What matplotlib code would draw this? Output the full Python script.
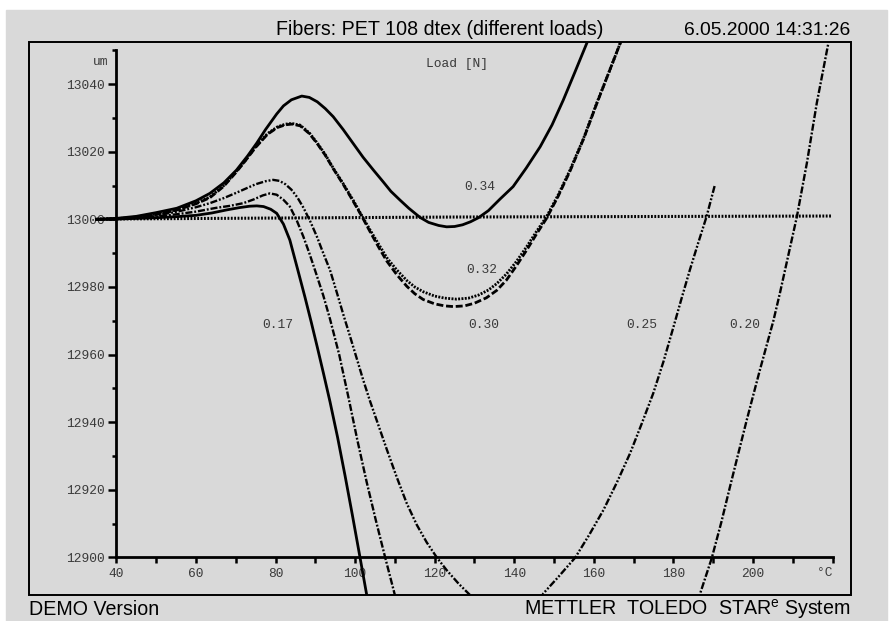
import numpy as np
import matplotlib
matplotlib.use("Agg")
import matplotlib.pyplot as plt
from matplotlib.patches import Rectangle

plt.rcParams['mathtext.fontset'] = 'custom'
plt.rcParams['mathtext.rm'] = 'Liberation Sans'

# ---------------- data (temperature in °C, length in um) ----------------
nan = np.nan
t_034 = [35, 40, 45, 50, 55.2, 60, 63.5, 67, 70.2, 73, 75.3, 77.5, 80.3, 82, 84, 86.6, 88.5,
         90.5, 92.5, 94.5, 97, 99.5, 102, 104.6, 107, 109, 111.3, 113.5, 116.3, 118.5, 121,
         123, 125, 127, 129, 131, 133.5, 136.4, 139.7, 143, 146.5, 149.5, 152.3, 155.2, 158.2,
         159.5]
l_034 = [13000, 13000.3, 13000.9, 13002.0, 13003.3, 13005.5, 13007.7, 13010.8, 13014.6,
         13018.8, 13022.6, 13026.6, 13031.2, 13033.6, 13035.4, 13036.5, 13036.1, 13034.8,
         13032.8, 13030.4, 13026.6, 13022.5, 13018.4, 13014.6, 13011.2, 13008.3, 13005.7,
         13003.3, 13000.6, 12999.1, 12998.2, 12997.8, 12997.9, 12998.4, 12999.3, 13000.5,
         13002.6, 13006.0, 13009.7, 13015.2, 13021.5, 13028.0, 13035.3, 13043.5, 13052.1,
         13056]

t_032 = [35, 40, 45, 50, 55, 60, 63.5, 67, 70, 72, 75, 78, 80.5, 82.5, 84.1, 86.2, 88.5, 90.5,
         92.5, 94.5, 97, 99.5, 101.6, 103.7, 106, 108, 110.5, 113, 115, 117.1, 120, 122.5,
         125.5, 128.5, 131, 133.5, 135.6, 138, 140.5, 143.1, 145.5, 148.1, 151, 154, 157.4,
         160.7, 163.6, 166.6, 167.8]
l_032 = [13000, 13000.2, 13000.7, 13001.6, 13002.8, 13004.8, 13006.6, 13010.0, 13014.0,
         13016.8, 13021.5, 13025.4, 13027.4, 13028.2, 13028.4, 13027.9, 13025.6, 13022.6,
         13019.2, 13015.2, 13010.6, 13005.7, 13001.3, 12997.0, 12992.5, 12988.6, 12985.0,
         12981.9, 12980.0, 12978.6, 12977.3, 12976.7, 12976.4, 12976.7, 12977.6, 12979.1,
         12981.0, 12983.8, 12987.5, 12991.9, 12996.3, 13000.8, 13007.2, 13014.6, 13024.0,
         13034.4, 13043.0, 13052.1, 13056]

t_030 = [35, 40, 45, 50, 55, 60, 63.5, 67, 70, 72, 75, 78, 80.5, 82.5, 84.1, 86.2, 88.5, 90.5,
         92.5, 94.5, 97, 99.5, 101.6, 103.7, 106, 108, 110.5, 113, 115, 117.1, 120, 122.5,
         124.7, 127.5, 130, 133, 135.6, 138, 140.5, 143.1, 145.5, 148.1, 151, 154, 157.4,
         160.7, 163.6, 166.6, 167.8]
l_030 = [13000, 13000.2, 13000.7, 13001.5, 13002.7, 13004.6, 13006.4, 13009.8, 13013.8,
         13016.7, 13021.3, 13025.2, 13027.2, 13028.0, 13028.2, 13027.7, 13025.4, 13022.4,
         13019.0, 13015.0, 13010.4, 13005.4, 13001.1, 12996.5, 12991.6, 12987.6, 12983.6,
         12980.2, 12978.0, 12976.3, 12975.0, 12974.4, 12974.2, 12974.4, 12975.2, 12976.8,
         12979.0, 12982.0, 12986.2, 12990.9, 12995.5, 13000.3, 13006.8, 13014.3, 13023.8,
         13034.2, 13043.0, 13052.1, 13056]

t_025 = [35, 40, 45, 50, 55, 60, 63.5, 67, 70, 72.5, 75, 77.5, 79.4, 81, 82.5, 84, 85.5, 87,
         88.7, 90.4, 92, 93.7, 95.5, 97, 98.7, 100.5, 102, 103.7, 106, 108, 110.5, 113, 115.5,
         118, 120.5, 123, 126, 128.9, 130.5, nan, 146.5, 147.3, 151, 155.3, 158.8, 162.4,
         165.8, 169.1, 172, 174.9, 177.5, 180, 182, 184.1, 186.2, 188.3, 190.4]
l_025 = [13000, 13000.2, 13000.6, 13001.2, 13002.2, 13003.6, 13004.8, 13006.3, 13007.8,
         13009.1, 13010.4, 13011.3, 13011.7, 13011.4, 13010.4, 13008.8, 13006.5, 13003.5,
         12999.5, 12994.9, 12990.0, 12985.0, 12978.0, 12972.0, 12965.5, 12958.5, 12952.6,
         12946.4, 12938.6, 12931.8, 12923.6, 12915.9, 12909.6, 12904.4, 12900.0, 12896.2,
         12892.2, 12888.8, 12887.0, nan, 12887.5, 12889.3, 12894.1, 12899.9, 12906.6,
         12914.0, 12922.2, 12930.8, 12939.5, 12948.5, 12958.0, 12968.2, 12976.5, 12985.0,
         12993.0, 13000.8, 13010.2]

t_020 = [35, 40, 45, 50, 55, 60, 65, 68.5, 71.9, 74.5, 76.8, 78.6, 80.3, 82, 83.6, 85.3, 87,
         88.5, 90.2, 92, 93.7, 96, 98.3, 100.6, 102.9, 105.2, 107.5, 110, 110.6, nan, 186.2,
         186.7, 189.6, 192, 194.2, 196.3, 198.4, 200, 201.7, 203.4, 205.1, 206.8, 208.4, 211,
         213.5, 216, 218.9, 219.4]
l_020 = [13000, 13000.1, 13000.4, 13000.8, 13001.5, 13002.3, 13003.4, 13004.0, 13004.8,
         13005.9, 13007.1, 13007.7, 13007.3, 13005.8, 13003.8, 12999.8, 12994.9, 12990.0,
         12984.0, 12977.5, 12970.5, 12960.0, 12947.5, 12934.5, 12922.3, 12911.0, 12900.2,
         12888.8, 12886.0, nan, 12887.0, 12889.3, 12899.7, 12910.3, 12920.9, 12930.8,
         12940.6, 12947.8, 12955.4, 12962.7, 12970.0, 12978.5, 12987.0, 13000.8, 13016.6,
         13034.4, 13052.1, 13056]

t_017 = [35, 40, 45, 50, 55, 60, 64, 67.7, 71, 73.5, 75.3, 77, 78.8, 80.3, 82, 83.6, 85.5,
         87.4, 89, 90.5, 92.1, 93.7, 95.6, 97.5, 99.3, 101, 102.9, 103.5]
l_017 = [13000, 13000.1, 13000.3, 13000.5, 13000.8, 13001.2, 13001.9, 13002.8, 13003.5,
         13003.9, 13004.0, 13003.8, 13003.0, 13001.8, 12998.6, 12993.9, 12985.5, 12977.0,
         12969.5, 12962.2, 12954.2, 12946.0, 12935.5, 12924.0, 12912.6, 12901.5, 12889.0,
         12885.0]

t_base = [35, 125, 219.7]
l_base = [13000.1, 13000.7, 13001]

load_labels = ['0.34', '0.32', '0.30', '0.25', '0.20', '0.17']
label_t = [131.4, 131.8, 132.4, 172.0, 197.9, 80.5]
label_l = [13009.7, 12985.0, 12968.7, 12968.7, 12968.7, 12968.7]

x_major = [40, 60, 80, 100, 120, 140, 160, 180, 200]
x_minor = [50, 70, 90, 110, 130, 150, 170, 190, 210, 220]
y_major = [12900, 12920, 12940, 12960, 12980, 13000, 13020, 13040]
y_minor = [12910, 12930, 12950, 12970, 12990, 13010, 13030, 13050]

# ---------------- figure ----------------
W, H = 893, 621
fig = plt.figure(figsize=(W / 100, H / 100), dpi=100)
bg = '#d9d9d9'
fig.patches.append(Rectangle((6 / W, 0), (887 - 6) / W, (621 - 10) / H,
                             transform=fig.transFigure, color=bg, zorder=-10))

L, R, T, B = 29.5, 851, 41.7, 595
ax = fig.add_axes([L / W, 1 - B / H, (R - L) / W, (B - T) / H])
ax.set_zorder(1)
ax.set_facecolor(bg)
ax.set_xlim(18.19, 224.6)
ax.set_ylim(12888.84, 13052.59)

# frame
ax.add_patch(Rectangle((0, 0), 1, 1, transform=ax.transAxes, fill=False,
                       ec='black', lw=1.4, clip_on=False, zorder=6))

for s in ['top', 'right']:
    ax.spines[s].set_visible(False)
ax.spines['left'].set_position(('data', 40))
ax.spines['left'].set_bounds(12900, 13050)
ax.spines['bottom'].set_position(('data', 12900))
ax.spines['bottom'].set_bounds(40, 220)
for s in ['left', 'bottom']:
    ax.spines[s].set_linewidth(2.0)
    ax.spines[s].set_zorder(5)

mono = 'Liberation Mono'
tcol = '#3a3a3a'
ax.set_xticks(x_major)
ax.set_xticks(x_minor, minor=True)
ax.set_xticklabels([str(v) for v in x_major], family=mono, fontsize=9.3, color=tcol)
ax.set_yticks(y_major)
ax.set_yticks(y_minor, minor=True)
ax.set_yticklabels([str(v) for v in y_major], family=mono, fontsize=9.3, color=tcol)
ax.tick_params(axis='x', which='both', direction='out', length=4, width=1.8, pad=4)
ax.tick_params(axis='y', which='major', direction='out', length=6, width=1.8, pad=2)
ax.tick_params(axis='y', which='minor', direction='out', length=3, width=1.8)

ax.text(218.0, 12895.3, '°C', family=mono, fontsize=9.3, color=tcol, ha='center', va='center')
ax.text(38.0, 13046.6, 'um', family=mono, fontsize=9.3, color=tcol, ha='right', va='center')
ax.text(125.6, 13046.0, 'Load [N]', family=mono, fontsize=9.3, color=tcol, ha='center', va='center')

# curves
k = 'black'
ax.plot(t_base, l_base, color=k, lw=2.2, ls=(0, (0.6, 0.5)), zorder=3)
ax.plot(t_034, l_034, color=k, lw=2.0, ls='-', zorder=4)
ax.plot(t_032, l_032, color=k, lw=2.0, ls=(0, (0.7, 0.5)), zorder=4)
ax.plot(t_030, l_030, color=k, lw=2.0, ls=(0, (2.5, 1.0)), zorder=4)
ax.plot(t_025, l_025, color=k, lw=1.7, ls=(0, (3, 0.8, 0.8, 0.8, 0.8, 0.8)), zorder=4)
ax.plot(t_020, l_020, color=k, lw=1.7, ls=(0, (3, 0.8, 0.8, 0.8)), zorder=4)
ax.plot(t_017, l_017, color=k, lw=2.0, ls='-', zorder=4)

for txt, tx, ly in zip(load_labels, label_t, label_l):
    ax.text(tx, ly, txt, family=mono, fontsize=9.3, color=tcol, ha='center', va='center')

# header / footer
sans = 'Liberation Sans'
fig.text(440 / W, 1 - 35 / H, 'Fibers: PET 108 dtex (different loads)', family=sans,
         fontsize=14.1, ha='center', va='baseline')
fig.text(850 / W, 1 - 35 / H, '6.05.2000 14:31:26', family=sans, fontsize=13.9,
         ha='right', va='baseline')
fig.text(29.5 / W, 1 - 615 / H, 'DEMO Version', family=sans, fontsize=14.1,
         ha='left', va='baseline')
fig.text(850 / W, 1 - 615 / H, r'METTLER  TOLEDO  STAR$^{\mathrm{e}}$ System', family=sans,
         fontsize=14.1, ha='right', va='baseline')

fig.savefig('out.png', dpi=100, facecolor='white')
